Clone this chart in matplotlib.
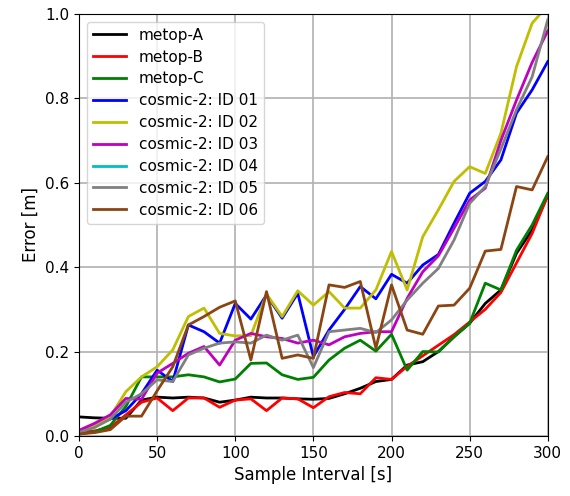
import numpy as np
import matplotlib
matplotlib.use("Agg")
from matplotlib import pyplot as plt

# sample intervals [s]
x = [1] + list(range(10, 301, 10))

metop_a = [0.045, 0.043, 0.042, 0.042, 0.085, 0.092, 0.090, 0.092, 0.090, 0.080,
           0.085, 0.092, 0.090, 0.090, 0.088, 0.087, 0.089, 0.100, 0.113, 0.129,
           0.134, 0.168, 0.176, 0.200, 0.235, 0.267, 0.314, 0.346, 0.433, 0.488, 0.570]
metop_b = [0.010, 0.012, 0.020, 0.050, 0.080, 0.090, 0.060, 0.090, 0.090, 0.068,
           0.085, 0.088, 0.060, 0.090, 0.088, 0.067, 0.093, 0.103, 0.100, 0.138,
           0.134, 0.165, 0.190, 0.215, 0.240, 0.270, 0.300, 0.340, 0.410, 0.480, 0.570]
metop_c = [0.005, 0.010, 0.025, 0.070, 0.140, 0.140, 0.140, 0.145, 0.140, 0.128,
           0.135, 0.172, 0.173, 0.145, 0.134, 0.139, 0.180, 0.208, 0.227, 0.201,
           0.241, 0.156, 0.200, 0.199, 0.235, 0.267, 0.362, 0.346, 0.440, 0.500, 0.575]
id01 = [0.012, 0.025, 0.040, 0.060, 0.100, 0.156, 0.129, 0.263, 0.247, 0.220,
        0.314, 0.277, 0.334, 0.279, 0.338, 0.188, 0.251, 0.300, 0.354, 0.325,
        0.383, 0.362, 0.405, 0.430, 0.504, 0.575, 0.603, 0.654, 0.765, 0.820, 0.887]
id02 = [0.012, 0.025, 0.046, 0.105, 0.140, 0.164, 0.204, 0.283, 0.303, 0.243,
        0.237, 0.238, 0.336, 0.283, 0.344, 0.310, 0.342, 0.303, 0.303, 0.346,
        0.437, 0.346, 0.472, 0.536, 0.603, 0.638, 0.622, 0.717, 0.875, 0.978, 1.020]
id03 = [0.015, 0.030, 0.050, 0.089, 0.087, 0.149, 0.172, 0.196, 0.212, 0.168,
        0.227, 0.243, 0.235, 0.231, 0.220, 0.227, 0.216, 0.235, 0.243, 0.247,
        0.247, 0.326, 0.389, 0.427, 0.492, 0.559, 0.587, 0.700, 0.796, 0.885, 0.960]
id04 = [np.nan] * len(x)  # not visible in the figure
id05 = [0.010, 0.020, 0.040, 0.080, 0.100, 0.133, 0.129, 0.192, 0.208, 0.220,
        0.223, 0.220, 0.239, 0.227, 0.239, 0.162, 0.247, 0.251, 0.255, 0.245,
        0.275, 0.322, 0.362, 0.397, 0.464, 0.551, 0.591, 0.680, 0.773, 0.851, 0.986]
id06 = [0.005, 0.008, 0.015, 0.047, 0.047, 0.107, 0.164, 0.263, 0.283, 0.305,
        0.320, 0.180, 0.342, 0.184, 0.192, 0.184, 0.358, 0.352, 0.366, 0.208,
        0.358, 0.251, 0.241, 0.308, 0.310, 0.350, 0.438, 0.442, 0.591, 0.583, 0.662]

series = [
    ('metop-A', metop_a, 'k'),
    ('metop-B', metop_b, 'r'),
    ('metop-C', metop_c, 'g'),
    ('cosmic-2: ID 01', id01, 'b'),
    ('cosmic-2: ID 02', id02, 'y'),
    ('cosmic-2: ID 03', id03, 'm'),
    ('cosmic-2: ID 04', id04, 'c'),
    ('cosmic-2: ID 05', id05, 'gray'),
    ('cosmic-2: ID 06', id06, '#8b4513'),
]

fig = plt.figure(figsize=(5.7, 4.96), dpi=100)
ax = fig.add_axes([0.1386, 0.121, 0.8224, 0.851])

for name, vals, col in series:
    ax.plot(x, vals, color=col, lw=2, label=name)

ax.set_xlim(0, 300)
ax.set_ylim(0, 1.0)
ax.set_xlabel('Sample Interval [s]', fontsize=12)
ax.set_ylabel('Error [m]', fontsize=12)
ax.tick_params(labelsize=11)
ax.grid(color='#b0b0b0', lw=1.2)
ax.legend(loc='upper left', fontsize=11, handlelength=2.2, labelspacing=0.45)

fig.savefig('out.png', dpi=100)
